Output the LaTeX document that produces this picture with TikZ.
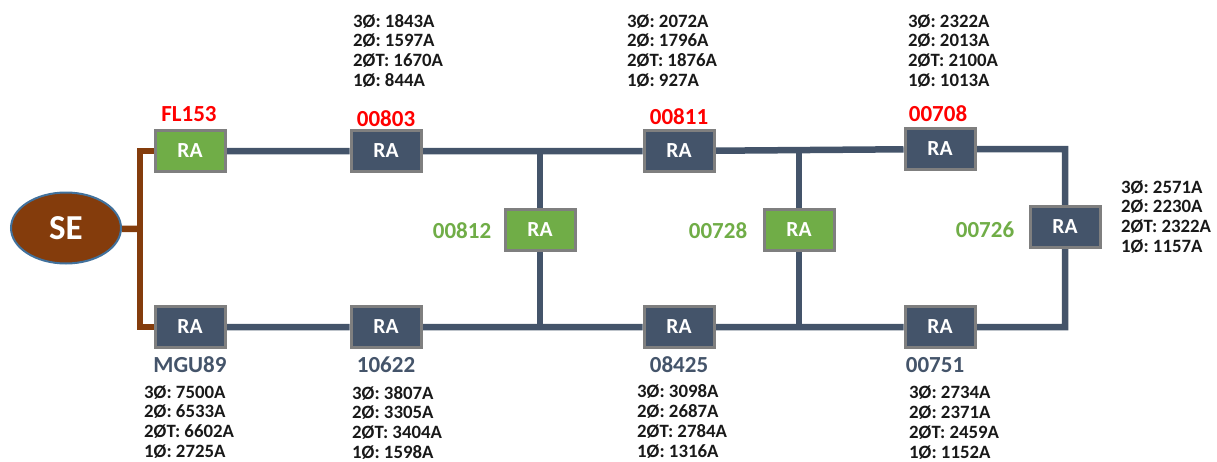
\documentclass[tikz,border=0pt]{standalone}
\usepackage{fontspec}
\setmainfont{Carlito}
\usetikzlibrary{shapes.geometric}
\pgfdeclarelayer{background}
\pgfsetlayers{background,main}

\definecolor{slate}{HTML}{44546A}
\definecolor{leaf}{HTML}{70AD47}
\definecolor{rust}{HTML}{843C0C}
\definecolor{frame}{HTML}{7F7F7F}
\definecolor{rim}{HTML}{41719C}

\tikzset{
	ra/.style={draw=frame, line width=3pt, fill=slate, minimum width=70pt, minimum height=41pt, inner sep=0pt, text=white, font=\fontsize{21.5}{24}\selectfont\bfseries},
	rag/.style={ra, fill=leaf},
	line/.style={draw=slate, line width=6.5pt},
	feeder/.style={draw=rust, line width=6.5pt},
	tag/.style={inner sep=0pt, font=\fontsize{23}{26}\selectfont\bfseries},
	% якорь base -- по последней строке
	amps/.style={anchor=base west, align=left, inner sep=0pt, text=black!90, font=\fontsize{18.8}{19.8}\selectfont\bfseries}
}

\begin{document}
\begin{tikzpicture}[x=1pt, y=-1pt]
	\useasboundingbox (0,0) rectangle (1217,461);

	% подстанция
	\node [ellipse, draw=rim, line width=2pt, fill=rust, minimum width=110pt, minimum height=71pt, text=white, font=\fontsize{35}{38}\selectfont\bfseries] (se) at (66,228) {SE};
	\coordinate (bus) at (140,229);

	% верхняя линия
	\node [rag] (fl153) at (190,151) {RA};
	\node [ra] (ra803) at (386,151) {RA};
	\node [ra] (ra811) at (679,151) {RA};
	\node [ra] (ra708) at (940,149) {RA};

	% перемычки
	\node [rag] (ra812) at (540,230) {RA};
	\node [rag] (ra728) at (799,230) {RA};
	\node [ra] (ra726) at (1065,227) {RA};

	% нижняя линия
	\node [ra] (mgu89) at (190,327) {RA};
	\node [ra] (ra622) at (386,327) {RA};
	\node [ra] (ra425) at (679,327) {RA};
	\node [ra] (ra751) at (940,327) {RA};

	% линии
	\begin{pgfonlayer}{background}
		\draw [feeder] (se) -- (bus);
		\draw [feeder] (fl153) -| (bus) |- (mgu89);
		\draw [line] (fl153) -- (ra803) -- (ra811) -- (ra708) -| (ra726) |- (ra751) -- (ra425) -- (ra622) -- (mgu89);
		\draw [line] (ra812 |- ra803) -- (ra812 |- ra622);
		\draw [line] (ra728 |- ra811) -- (ra728 |- ra425);
	\end{pgfonlayer}

	% номера
	\node [tag, text=red] (tfl153) at (189,114) {FL153};
	\node [tag, text=red] (t803) at (386,119) {00803};
	\node [tag, text=red] (t811) at (679,117) {00811};
	\node [tag, text=red] (t708) at (938,114) {00708};
	\node [tag, text=leaf] (t812) at (462,231) {00812};
	\node [tag, text=leaf] (t728) at (718,231) {00728};
	\node [tag, text=leaf] (t726) at (985,230) {00726};
	\node [tag, text=slate] (tmgu89) at (190,365) {MGU89};
	\node [tag, text=slate] (t622) at (386,365) {10622};
	\node [tag, text=slate] (t425) at (679,365) {08425};
	\node [tag, text=slate] (t751) at (935,365) {00751};

	% токи КЗ
	\node [amps] (a803) at (353,86.5) {3Ø: 1843A\\2Ø: 1597A\\2ØT: 1670A\\1Ø: 844A};
	\node [amps] (a811) at (627,86.5) {3Ø: 2072A\\2Ø: 1796A\\2ØT: 1876A\\1Ø: 927A};
	\node [amps] (a708) at (908,86.5) {3Ø: 2322A\\2Ø: 2013A\\2ØT: 2100A\\1Ø: 1013A};
	\node [amps] (a726) at (1121,252.5) {3Ø: 2571A\\2Ø: 2230A\\2ØT: 2322A\\1Ø: 1157A};
	\node [amps] (amgu89) at (144,457.5) {3Ø: 7500A\\2Ø: 6533A\\2ØT: 6602A\\1Ø: 2725A};
	\node [amps] (a622) at (352,458.5) {3Ø: 3807A\\2Ø: 3305A\\2ØT: 3404A\\1Ø: 1598A};
	\node [amps] (a425) at (637,457) {3Ø: 3098A\\2Ø: 2687A\\2ØT: 2784A\\1Ø: 1316A};
	\node [amps] (a751) at (909,458) {3Ø: 2734A\\2Ø: 2371A\\2ØT: 2459A\\1Ø: 1152A};
\end{tikzpicture}
\end{document}
